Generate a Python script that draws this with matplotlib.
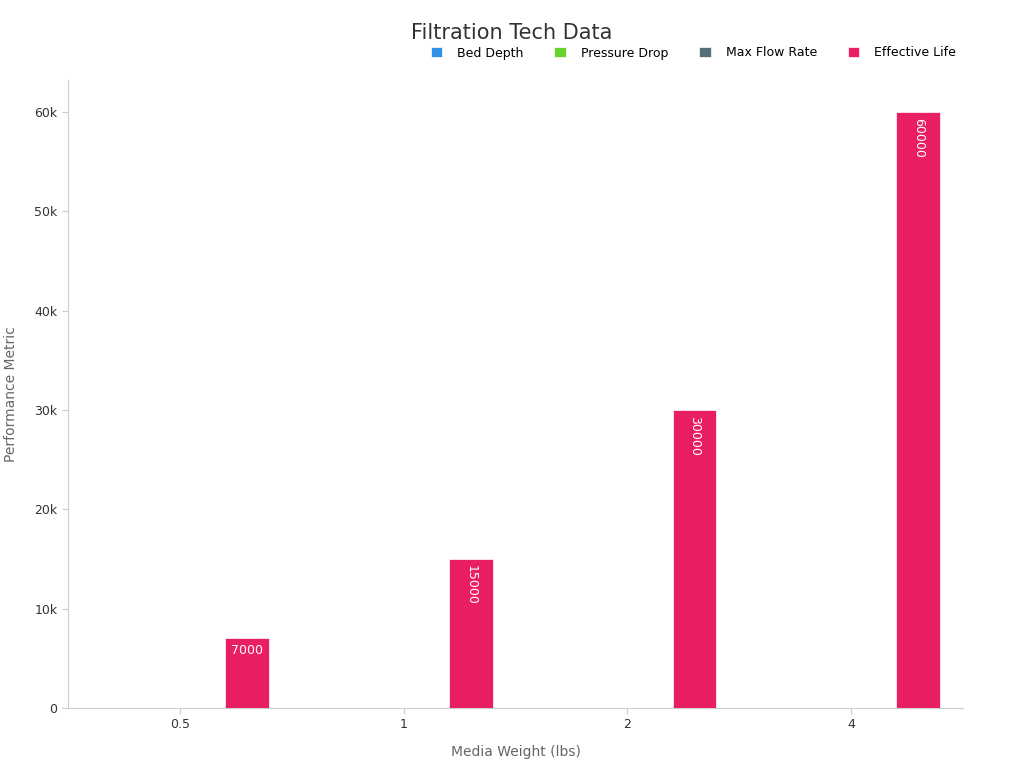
import matplotlib
matplotlib.use("Agg")
import matplotlib.pyplot as plt
import numpy as np

categories = ["0.5", "1", "2", "4"]
series_names = ["Bed Depth", "Pressure Drop", "Max Flow Rate", "Effective Life"]
bed_depth = [2, 3, 4, 6]
pressure_drop = [0.5, 0.8, 1.2, 1.8]
max_flow_rate = [5, 10, 20, 40]
effective_life = [7000, 15000, 30000, 60000]
colors = ["#2E93E8", "#66D32E", "#546E7A", "#E91E63"]

fig = plt.figure(figsize=(10.24, 7.68), dpi=100)
ax = fig.add_axes([68/1024, 60/768, 895/1024, 628/768])
x = np.arange(len(categories))
w = 0.196
data = [bed_depth, pressure_drop, max_flow_rate, effective_life]
for i, (name, vals, c) in enumerate(zip(series_names, data, colors)):
    bars = ax.bar(x + (i - 1.5) * 0.2, vals, w, color=c, label=name, edgecolor="white", linewidth=0.5)
    if name == "Effective Life":
        for b, v in zip(bars, vals):
            cx = b.get_x() + b.get_width() / 2
            if v < 10000:
                ax.text(cx, v - 600, str(v), ha="center", va="top", color="white", fontsize=9)
            else:
                ax.text(cx, v - 600, str(v), ha="center", va="top", color="white", fontsize=9, rotation=-90)

ax.set_xlim(-0.5, 3.5)
ax.set_ylim(0, 63200)
ax.set_xticks(x)
ax.set_xticklabels(categories)
ax.set_yticks([0, 10000, 20000, 30000, 40000, 50000, 60000])
ax.set_yticklabels(["0", "10k", "20k", "30k", "40k", "50k", "60k"])
ax.tick_params(axis="both", colors="#cccccc", labelcolor="#333333", labelsize=9, length=4)
for s in ["top", "right"]:
    ax.spines[s].set_visible(False)
for s in ["left", "bottom"]:
    ax.spines[s].set_color("#cccccc")
ax.set_xlabel("Media Weight (lbs)", fontsize=10, color="#666666", labelpad=10)
ax.set_ylabel("Performance Metric", fontsize=10, color="#666666", labelpad=12)
fig.text(512/1024, 1 - 33/768, "Filtration Tech Data", ha="center", va="center", fontsize=15, color="#333333")
ax.legend(loc="center right", bbox_to_anchor=(1.005, 1 + 27/628), ncol=4, frameon=False, fontsize=9,
          handlelength=0.9, handleheight=0.9, handletextpad=1.2, columnspacing=2.5)
fig.savefig("out.png", dpi=100)
